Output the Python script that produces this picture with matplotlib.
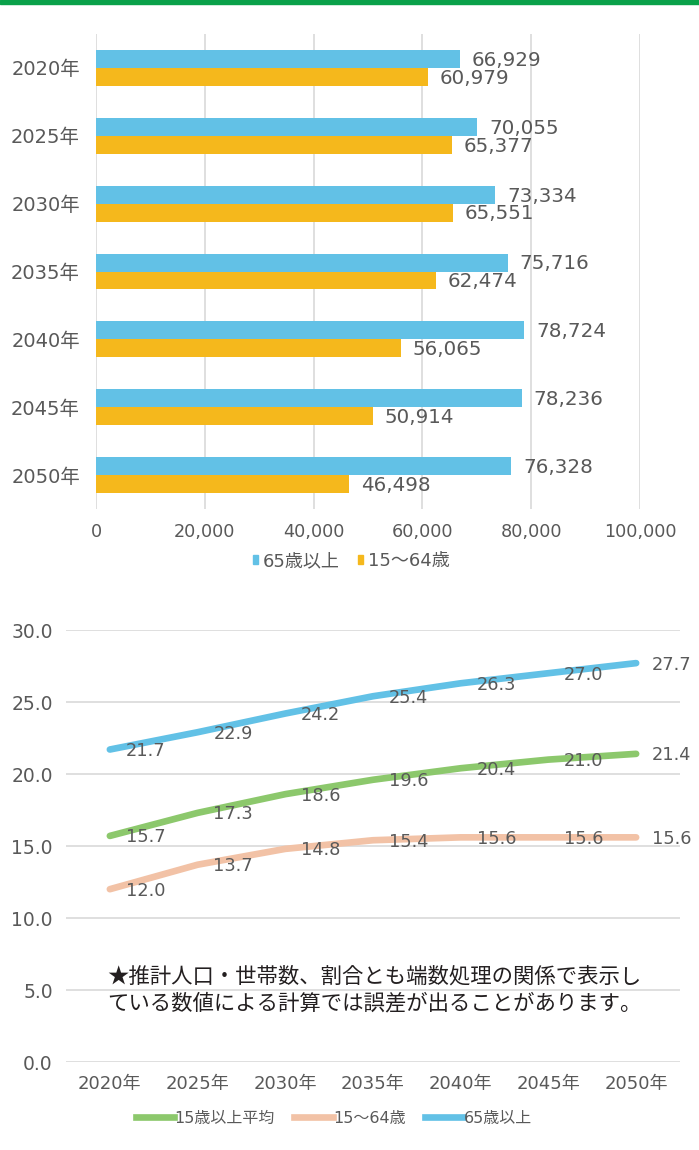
import matplotlib
matplotlib.use("Agg")
import matplotlib.pyplot as plt
import numpy as np
from matplotlib.lines import Line2D
from matplotlib.patches import Patch

plt.rcParams['font.family'] = ['DejaVu Sans', 'Noto Sans CJK JP']

years = ["2020年", "2025年", "2030年", "2035年", "2040年", "2045年", "2050年"]
pop65 = [66929, 70055, 73334, 75716, 78724, 78236, 76328]
pop1564 = [60979, 65377, 65551, 62474, 56065, 50914, 46498]

avg15 = [15.7, 17.3, 18.6, 19.6, 20.4, 21.0, 21.4]
rate1564 = [12.0, 13.7, 14.8, 15.4, 15.6, 15.6, 15.6]
rate65 = [21.7, 22.9, 24.2, 25.4, 26.3, 27.0, 27.7]

BLUE = "#62c1e6"
ORANGE = "#f5b81c"
GREEN = "#8cc86c"
SALMON = "#f2c2a6"
TXT = "#595959"
GRID = "#d9d9d9"

fig = plt.figure(figsize=(6.99, 11.5), dpi=100)

# green top stripe
fig.add_artist(plt.Rectangle((0, 1 - 3.5 / 1150), 1, 3.5 / 1150, transform=fig.transFigure,
                             color="#0aa14a", zorder=10))

# ---------- bar chart ----------
ax1 = fig.add_axes([96 / 699, 1 - 509 / 1150, 544 / 699, 475 / 1150])
y = np.arange(len(years))
h = 0.265
ax1.barh(y - h / 2, pop65, height=h, color=BLUE, zorder=3)
ax1.barh(y + h / 2, pop1564, height=h, color=ORANGE, zorder=3)
for i in range(len(years)):
    ax1.text(pop65[i] + 2200, y[i] - h / 2 + 0.02, f"{pop65[i]:,}", va="center", ha="left",
             fontsize=14.3, color=TXT, zorder=4)
    ax1.text(pop1564[i] + 2200, y[i] + h / 2 + 0.02, f"{pop1564[i]:,}", va="center", ha="left",
             fontsize=14.3, color=TXT, zorder=4)
ax1.set_xlim(0, 100000)
ax1.set_ylim(len(years) - 0.5, -0.5)
ax1.set_yticks(y)
ax1.set_yticklabels(years, fontsize=14, color=TXT)
ax1.set_xticks(np.arange(0, 100001, 20000))
ax1.set_xticklabels([f"{v:,}" for v in range(0, 100001, 20000)], fontsize=12.7, color=TXT)
ax1.xaxis.grid(True, color=GRID, linewidth=1.2, zorder=0)
ax1.tick_params(axis="both", length=0)
ax1.tick_params(axis="y", pad=11.5)
ax1.tick_params(axis="x", pad=10)
for s in ax1.spines.values():
    s.set_visible(False)

fig.legend(handles=[Patch(color=BLUE, label="65歳以上"), Patch(color=ORANGE, label="15～64歳")],
           loc="center", bbox_to_anchor=(351 / 699, 1 - 561 / 1150), ncol=2, frameon=False,
           fontsize=13, handlelength=0.3, handleheight=0.45, handletextpad=0.25,
           columnspacing=1.0, labelcolor=TXT)

# ---------- line chart ----------
ax2 = fig.add_axes([66 / 699, 1 - 1062 / 1150, 614 / 699, 432 / 1150])
x = np.arange(len(years))
ax2.plot(x, avg15, color=GREEN, linewidth=4.8, solid_capstyle="round", zorder=3)
ax2.plot(x, rate1564, color=SALMON, linewidth=4.8, solid_capstyle="round", zorder=3)
ax2.plot(x, rate65, color=BLUE, linewidth=4.8, solid_capstyle="round", zorder=3)
for series in (avg15, rate1564, rate65):
    for i, v in enumerate(series):
        ax2.text(x[i] + 0.18, v - 0.1, f"{v:.1f}", va="center", ha="left",
                 fontsize=12.8, color=TXT, zorder=4)
ax2.set_xlim(-0.5, 6.5)
ax2.set_ylim(0, 30)
ax2.set_yticks(np.arange(0, 30.1, 5))
ax2.set_yticklabels([f"{v:.1f}" for v in np.arange(0, 30.1, 5)], fontsize=13.5, color=TXT)
ax2.set_xticks(x)
ax2.set_xticklabels(years, fontsize=13, color=TXT)
ax2.yaxis.grid(True, color=GRID, linewidth=1.2, zorder=0)
ax2.tick_params(axis="both", length=0)
ax2.tick_params(axis="y", pad=9.5)
ax2.tick_params(axis="x", pad=9)
for s in ax2.spines.values():
    s.set_visible(False)

fig.text(107 / 699, 1 - 990 / 1150,
         "★推計人口・世帯数、割合とも端数処理の関係で表示し\nている数値による計算では誤差が出ることがあります。",
         ha="left", va="center", fontsize=15.4, color="#231f20",
         linespacing=1.3, family=['Noto Sans CJK JP', 'DejaVu Sans'])

fig.legend(handles=[Line2D([], [], color=GREEN, linewidth=4.8, label="15歳以上平均"),
                    Line2D([], [], color=SALMON, linewidth=4.8, label="15～64歳"),
                    Line2D([], [], color=BLUE, linewidth=4.8, label="65歳以上")],
           loc="center", bbox_to_anchor=(334 / 699, 1 - 1118 / 1150), ncol=3, frameon=False,
           fontsize=11.5, handlelength=2.4, handletextpad=0.05, columnspacing=1.2,
           labelcolor=TXT)

fig.savefig("out.png", dpi=100, facecolor="white")
